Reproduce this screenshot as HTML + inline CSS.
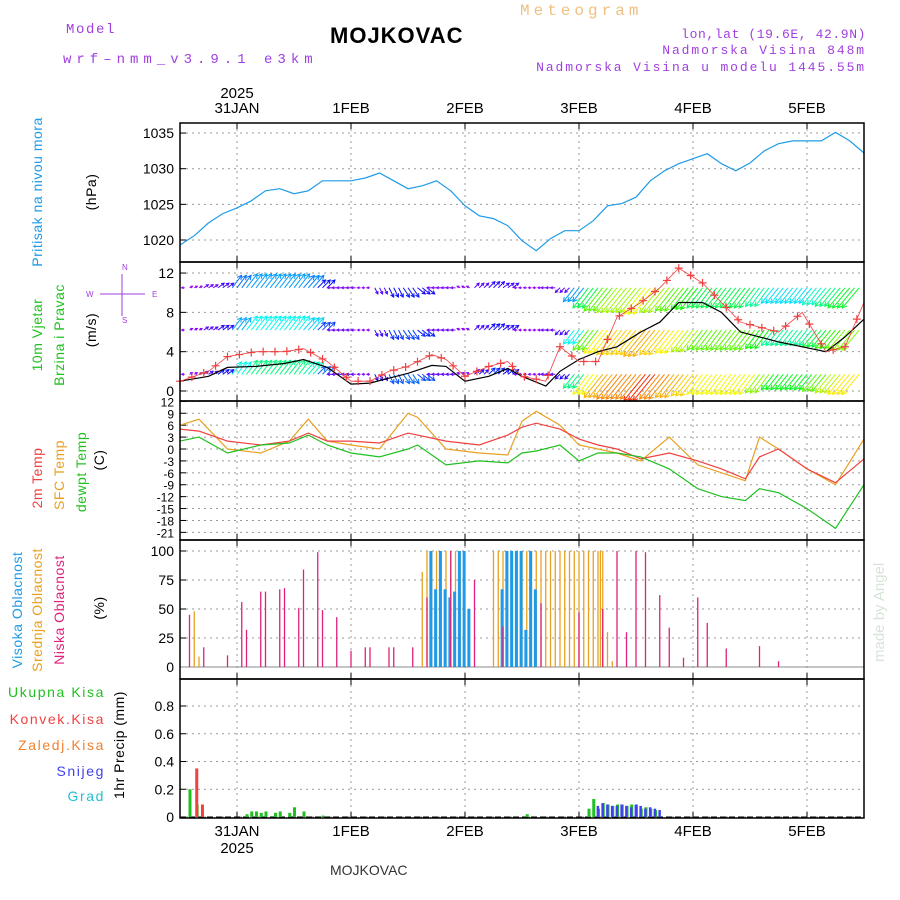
<!DOCTYPE html>
<html><head><meta charset="utf-8"><style>
body{margin:0;background:#fff;width:900px;height:900px;overflow:hidden}
svg{display:block}
text{font-family:"Liberation Sans",sans-serif}
.mono{font-family:"Liberation Mono",monospace}
</style></head><body>
<svg id="c" width="900" height="900" xmlns="http://www.w3.org/2000/svg">
<g>
<text class="mono" x="66" y="33" fill="#a040e0" font-size="14" letter-spacing="1.6">Model</text>
<text class="mono" x="63" y="63" fill="#a040e0" font-size="14" letter-spacing="5">wrf–nmm_v3.9.1 e3km</text>
<text x="330" y="43" font-family="Liberation Serif" font-weight="bold" font-size="22" letter-spacing="1" fill="#000">MOJKOVAC</text>
<text class="mono" x="520" y="15" fill="#f0c080" font-size="16" letter-spacing="4">Meteogram</text>
<text class="mono" x="866" y="38" text-anchor="end" fill="#a040e0" font-size="13" letter-spacing="0.6">lon,lat (19.6E, 42.9N)</text>
<text class="mono" x="866" y="54" text-anchor="end" fill="#a040e0" font-size="13" letter-spacing="1.9">Nadmorska Visina 848m</text>
<text class="mono" x="866" y="71" text-anchor="end" fill="#a040e0" font-size="13" letter-spacing="1.9">Nadmorska Visina u modelu 1445.55m</text>
<text x="872" y="650" transform="rotate(-90 884 650)" fill="#d8e4d8" font-size="15">made by Angel</text>
<text x="330" y="875" font-family="Liberation Serif" font-size="14" fill="#333">MOJKOVAC</text>
</g>
<g id="plots"></g>
</svg>
<script>
// ---- data (x in hours from 30JAN 12UTC) ----
const presHours=[0,3,6,9,12,15,18,21,24,27,30,33,36,39,42,45,48,51,54,57,60,63,66,69,72,75,78,81,84,87,90,93,96,99,102,105,108,111,114,117,120,123,126,129,132,135,138,141,144];
const presVals=[1019.3,1020.6,1022.4,1023.7,1024.5,1025.5,1026.9,1027.2,1026.5,1026.9,1028.3,1028.3,1028.3,1028.7,1029.4,1028.3,1027.2,1027.6,1028.3,1026.9,1024.8,1023.4,1023.0,1022.0,1019.9,1018.5,1020.2,1021.3,1021.3,1022.7,1024.8,1025.1,1026.0,1028.3,1029.7,1030.7,1031.4,1032.1,1030.7,1029.7,1030.8,1032.5,1033.5,1033.9,1033.9,1033.9,1035.1,1033.9,1032.2];
const windHours=[0,6,10,16,22,26,31,36,40,44,48,53,56,60,65,69,72,77,80,84,88,92,97,101,105,110,114,118,122,126,131,136,140,144];
const windSpeed=[1,1.5,2.4,2.5,2.8,3.2,2.4,0.7,0.8,1.3,1.8,2.6,2.5,1,1.5,2.3,1.5,0.5,2,3.2,4,4.5,6,7,9,9,8,6,5.5,5,4.5,4,5.5,7.3];
const gustVals=[1,2,3.5,4,4,4.3,3,1,1,2,2.5,3.7,3.2,1.5,2.5,3,1.5,1,4.5,3,3,7.5,9,10.5,12.5,11,9,7,6.5,6,8,4,4.5,9];
// wind vectors (u east, v north) every 3h
const vecU=[-2,2,3,4,6,7,7,7,7,7,5,-3,-3,-2,2,3,4,5,-3,-3,-2,3,4,4,-2,-2,-3,-3,-7,-10,-12,-13,-13,-14,-13,-12,-11,-10,-10,-10,-10,-9,-8,-8,-8,-9,-10,-11,-11];
const vecV=[0,1,2,3,8,9,9,9,9,8,5,0,0,0,-4,-6,-6,-4,0,0,1,3,4,3,0,0,0,-3,-9,-13,-15,-16,-16,-17,-16,-15,-14,-13,-13,-13,-13,-12,-10,-10,-10,-11,-12,-13,-13];
const barbRowLevels=[10.5,6.2,1.7];
const tHours=[0,4,10,17,23,27,31,36,42,48,50,56,63,69,72,75,80,84,88,92,97,103,109,114,119,122,126,132,138,144];
const t2m=[5,4.5,2,1,2,4,2,2,1.5,4,3.5,2,1,3.5,5.5,6.5,5,2.5,1,0,-2.5,-1,-3,-5,-7.5,-2,0,-5,-8.5,-2.5];
const tSfc=[6,7.5,0,-1,2,7.5,2,1,0,9,8,0,-1,-1.5,7,9.5,6,1,0,-1,-3,3,-4,-6,-8,3,0,-5,-9,2.5];
const tDew=[2,3,-1,1,1.5,3.5,1,-1,-2,0,1,-4,-3,-3.5,-1,-0.5,1,-3,-1,-1,-2,-5,-10,-12,-13,-10,-11,-15,-20,-9];
const lowH=[2,5,10,13,14,17,18,21,22,25,26,29,30,33,36,39,40,44,45,49,52,57,62,68,76,84,89,92,94,96,98,101,103,106,109,111,115,122,126];
const lowV=[45,17,10,56,32,65,65,67,68,51,84,99,49,43,14,17,17,17,17,17,60,100,75,35,55,47,50,100,30,100,99,62,34,8,60,38,16,18,5];
const midH=[3,4,51,52,53,54,55,56,57,58,59,66,67,68,69,70,71,72,73,74,75,76,77,78,79,80,81,82,83,84,85,86,87,88,89,90,91,88.5];
const midV=[48,9,82,100,100,100,100,100,100,100,100,100,100,100,100,100,100,100,100,100,100,100,100,100,100,100,100,100,100,100,100,100,100,100,100,30,5,100];
const highH=[52.5,53.5,54.5,55.5,56.5,57.5,58.5,59.5,60.5,67.5,68.5,69.5,70.5,71.5,72.5,73.5,74.5];
const highV=[100,67,100,67,60,65,100,100,50,67,100,100,100,100,32,100,67];
const totH=[2,3.5,14,15,16,17,18,20,21,23,24,26,30,73,86,87,88,89,90,91,92,93,94,95,96,97,98,99,100];
const totV=[0.2,0.09,0.02,0.04,0.04,0.03,0.04,0.03,0.04,0.03,0.07,0.04,0.01,0.02,0.06,0.13,0.06,0.1,0.09,0.08,0.09,0.09,0.08,0.09,0.09,0.06,0.07,0.06,0.05];
const convH=[3,4.2];
const convV=[0.35,0.09];
const snowH=[87.5,88.5,89.5,90.5,91.5,92.5,93.5,94.5,95.5,96.5,97.5,98.5,99.5,100.5];
const snowV=[0.08,0.1,0.09,0.08,0.08,0.09,0.08,0.07,0.09,0.08,0.06,0.07,0.06,0.05];
const dayLabels=["31JAN","1FEB","2FEB","3FEB","4FEB","5FEB"];

const NS="http://www.w3.org/2000/svg";
const G=document.getElementById('plots');
const X0=180,X1=864;
const xs=h=>X0+h*(X1-X0)/144;
function mk(t,a,p){const e=document.createElementNS(NS,t);for(const k in a)e.setAttribute(k,a[k]);(p||G).appendChild(e);return e;}
const panels=[
 {top:123,bot:262,ticks:[1020,1025,1030,1035]},
 {top:262,bot:401,ticks:[0,4,8,12]},
 {top:401,bot:540,ticks:[12,9,6,3,0,-3,-6,-9,-12,-15,-18,-21]},
 {top:540,bot:679,ticks:[0,25,50,75,100]},
 {top:679,bot:818,ticks:[0,0.2,0.4,0.6,0.8]}];
panels[4].y=v=>817-v*138.75;
panels[3].y=v=>667-v*1.16;
panels[2].y=v=>449-v*3.97;
panels[1].y=v=>391-v*9.83;
panels[0].y=v=>240-(v-1020)*7.13;
const names=['pressure','wind','temperature','cloud','precip'];
panels.forEach((p,i)=>{
 const g=mk('g',{});
 
 
 for(let d=0;d<6;d++){const x=237+d*114;
  const l=mk('line',{x1:x,x2:x,y1:p.top,y2:p.bot,stroke:'#999','stroke-dasharray':'2,4'},g);
  
  mk('line',{x1:x,x2:x,y1:p.top,y2:p.top+6,stroke:'#000'},g);mk('line',{x1:x,x2:x,y1:p.bot,y2:p.bot-6,stroke:'#000'},g);}
 p.ticks.forEach(t=>{const y=p.y(t);
  const l=mk('line',{x1:X0,x2:X1,y1:y,y2:y,stroke:'#999','stroke-dasharray':'2,4'},g);
  
  mk('line',{x1:X0,x2:X0+6,y1:y,y2:y,stroke:'#000'},g);
  const tx=mk('text',{x:174,y:y+5,'text-anchor':'end','font-size':i==2?12:14,fill:'#000'},g);
  tx.textContent=t;});
});
function line(xsA,ys,p,col,name,w){const pts=xsA.map((h,i)=>xs(h).toFixed(1)+','+p.y(ys[i]).toFixed(1)).join(' ');
 const e=mk('polyline',{points:pts,fill:'none',stroke:col,'stroke-width':w||1.2});return e;}
line(presHours,presVals,panels[0],'#1e9be8','pressure-line');
// wind vectors
function hue(s){if(s<2)return 275;if(s<10)return 275-(s-2)*9.4;if(s<15)return 200-(s-10)*16;if(s<19)return 120-(s-15)*15;if(s<24)return 60-(s-19)*6;return Math.max(-30,30-(s-24)*15);}
const rowFac=[0.85,1.0,1.15];
const wclip=mk('clipPath',{id:'wclip'});mk('rect',{x:X0,y:250,width:X1-X0+30,height:151},wclip);
const wg=mk('g',{'clip-path':'url(#wclip)'});

barbRowLevels.forEach((lv,r)=>{for(let h=0;h<=143;h+=1){
 const k=Math.round(h/3);const u=vecU[k],v=vecV[k];
 const s=Math.sqrt(u*u+v*v)*rowFac[r];
 const x=xs(h),y=panels[1].y(lv);
 const sc=1.55;const x2=x+u*sc,y2=y-v*sc;
 const col='hsl('+hue(s)+',95%,50%)';
 const e=mk('line',{x1:x,y1:y,x2:x2,y2:y2,stroke:col,'stroke-width':1},wg);
 
 if(s>0.5){const a=Math.atan2(y2-y,x2-x),hl=Math.min(5,s*0.4+1.5);
  mk('path',{d:`M${x2-hl*Math.cos(a-0.5)},${y2-hl*Math.sin(a-0.5)}L${x2},${y2}L${x2-hl*Math.cos(a+0.5)},${y2-hl*Math.sin(a+0.5)}`,fill:'none',stroke:col,'stroke-width':1},wg);}
}});
line(windHours,windSpeed,panels[1],'#000','wind-speed-line');
line(windHours,gustVals,panels[1],'#f04040','wind-gust-line',0.8);
for(let h=0;h<=144;h+=2.5){let k=0;while(k<windHours.length-2&&windHours[k+1]<h)k++;
 const f=(h-windHours[k])/(windHours[k+1]-windHours[k]);const v=gustVals[k]+(gustVals[k+1]-gustVals[k])*Math.min(1,f);
 const x=xs(h),y=panels[1].y(v);
 const e=mk('path',{d:`M${x-4},${y}h8M${x},${y-4}v8`,stroke:'#f04040','stroke-width':1.2});}
line(tHours,tSfc,panels[2],'#e8a020','sfc-temp-line');
line(tHours,t2m,panels[2],'#f04040','2m-temp-line');
line(tHours,tDew,panels[2],'#20c020','dewpoint-line');
function bars(H,V,p,col,name,w,off){H.forEach((h,i)=>{const x=xs(h)+(off||0),y0=p.y(0),y=p.y(V[i]);
 const e=mk('rect',{x:x,y:Math.min(y,y0),width:w,height:Math.abs(y0-y),fill:col});});}
function vlines(H,V,p,col,name){H.forEach((h,i)=>{const x=xs(h),y0=p.y(0),y=p.y(V[i]);
 const e=mk('line',{x1:x,x2:x,y1:y0,y2:y,stroke:col,'stroke-width':1.3});});}
mk('line',{x1:X0,x2:X1,y1:667,y2:667,stroke:'#888'});
vlines(midH,midV,panels[3],'#e8a020','mid-cloud-bar');
highH.forEach((h,i)=>{bars([h],[highV[i]],panels[3],'#1e9be8','high-cloud-bar',3);});
vlines(lowH,lowV,panels[3],'#e0207a','low-cloud-bar');
mk('line',{x1:X0,x2:X1,y1:817,y2:817,stroke:'#000','stroke-dasharray':'6,3'});
bars(totH,totV,panels[4],'#20c020','total-precip-bar',3,-1);
bars(convH,convV,panels[4],'#f04040','convective-precip-bar',3,1);
bars(snowH,snowV,panels[4],'#4040f0','snow-bar',2.5,1);
// frames on top
panels.forEach(p=>mk('rect',{x:X0,y:p.top,width:X1-X0,height:p.bot-p.top,fill:'none',stroke:'#000','stroke-width':1.5}));
// axis labels
dayLabels.forEach((d,i)=>{const x=237+i*114;
 let t=mk('text',{x:x,y:113,'text-anchor':'middle','font-size':15,fill:'#000'});t.textContent=d;
 t=mk('text',{x:x,y:836,'text-anchor':'middle','font-size':15,fill:'#000'});t.textContent=d;});
let ty=mk('text',{x:237,y:98,'text-anchor':'middle','font-size':15});ty.textContent='2025';
ty=mk('text',{x:237,y:853,'text-anchor':'middle','font-size':15});ty.textContent='2025';
function rl(x,yc,txt,col,name,fs){const t=mk('text',{x:x,y:yc,transform:`rotate(-90 ${x} ${yc})`,'text-anchor':'middle','font-size':fs||14,fill:col,'letter-spacing':0.5});t.textContent=txt;}
rl(42,192,'Pritisak na nivou mora','#1e9be8','pressure-title');
rl(96,192,'(hPa)','#000','pressure-unit');
rl(42,335,'10m Vjetar','#20c020','wind-title-1');
rl(64,335,'Brzina i Pravac','#20c020','wind-title-2');
rl(96,330,'(m/s)','#000','wind-unit');
rl(42,478,'2m Temp','#f04040','temp-2m-title');
rl(64,475,'SFC Temp','#e8a020','temp-sfc-title');
rl(86,472,'dewpt Temp','#20c020','temp-dew-title');
rl(104,460,'(C)','#000','temp-unit');
rl(22,610,'Visoka Oblacnost','#1e9be8','high-cloud-title');
rl(42,610,'Srednja Oblacnost','#e8a020','mid-cloud-title');
rl(64,610,'Niska Oblacnost','#e0207a','low-cloud-title');
rl(104,608,'(%)','#000','cloud-unit');
rl(124,745,'1hr Precip (mm)','#000','precip-unit');
[['Ukupna Kisa','#20c020',697],['Konvek.Kisa','#f04040',724],['Zaledj.Kisa','#f08030',750],['Snijeg','#4040f0',776],['Grad','#20c0d0',801]].forEach(a=>{
 const t=mk('text',{x:105,y:a[2],'text-anchor':'end','font-size':14,fill:a[1],'letter-spacing':1.6});t.textContent=a[0];});
// compass
const cg=mk('g',{fill:'#a040e0','font-size':8});
[['N',122,270],['W',86,297],['E',152,297],['S',122,323]].forEach(a=>{const t=mk('text',{x:a[1],y:a[2]},cg);t.textContent=a[0];});
mk('line',{x1:100,x2:145,y1:294,y2:294,stroke:'#a040e0'},cg);mk('line',{x1:122,x2:122,y1:274,y2:316,stroke:'#a040e0'},cg);
</script>
</body></html>
